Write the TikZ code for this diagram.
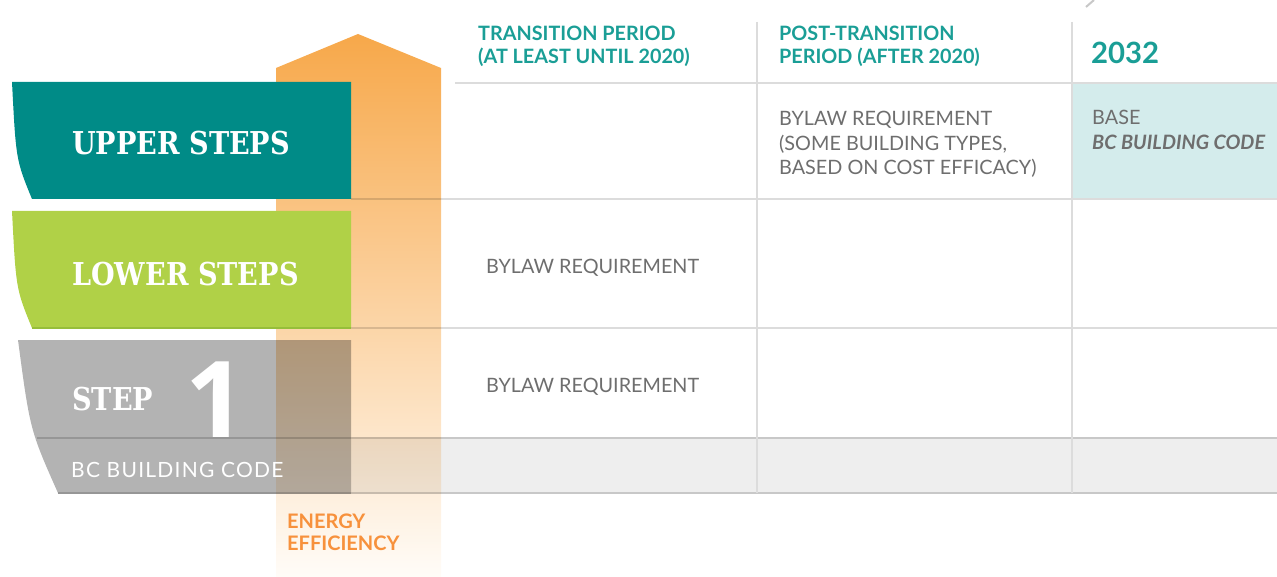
\documentclass[tikz,border=0pt]{standalone}
\usepackage{fontspec}
\setmainfont{Lato}
\newfontfamily\slab[FakeStretch=0.862]{DejaVu Serif}
\newfontfamily\numfont{Open Sans}
\definecolor{stepteal}{RGB}{0,139,135}
\definecolor{stepgreen}{RGB}{176,209,71}
\definecolor{greenedge}{RGB}{150,190,58}
\definecolor{stepgray}{RGB}{179,179,179}
\definecolor{grayedge}{RGB}{150,150,150}
\definecolor{hdrteal}{RGB}{26,158,150}
\definecolor{bodygray}{RGB}{110,110,110}
\definecolor{cellteal}{RGB}{212,236,236}
\definecolor{rowgray}{RGB}{238,238,238}
\definecolor{tline}{RGB}{220,220,220}
\definecolor{tdark}{RGB}{200,200,200}
\definecolor{orangetxt}{RGB}{247,145,60}
\definecolor{arrtop}{RGB}{247,168,74}
\definecolor{arrbot}{RGB}{255,252,248}
\tikzset{
  gridline/.style={draw=tline, line width=1.6pt},
  darkline/.style={draw=tdark, line width=1.6pt},
  steplabel/.style={anchor=base west, inner sep=0pt, text=white, font=\slab\bfseries\fontsize{31.5}{31.5}\selectfont},
  hdr/.style={anchor=base west, inner sep=0pt, align=left, text=hdrteal, font=\bfseries\fontsize{19.8}{23}\selectfont},
  body/.style={anchor=base west, inner sep=0pt, align=left, text=bodygray, font=\fontsize{19.8}{24.5}\selectfont},
}
\begin{document}
\begin{tikzpicture}[x=1pt,y=-1pt]
\useasboundingbox (0,0) rectangle (1277,577);
% table backgrounds
\fill[cellteal] (1072,83) rectangle (1277,199);
\fill[rowgray] (351,438) rectangle (1277,493);
% table lines
\draw[gridline] (455,83) -- (1277,83);
\draw[gridline] (351,199) -- (1277,199);
\draw[gridline] (351,328) -- (1277,328);
\draw[darkline] (351,438) -- (1277,438);
\draw[darkline] (351,493) -- (1277,493);
\draw[gridline] (757,22) -- (757,493);
\draw[gridline] (1072,22) -- (1072,493);
\draw[tdark, line width=2pt] (1086,7) -- (1094,0);
% step 1 box
\fill[stepgray] (18,340) -- (351,340) -- (351,493) -- (58,493) .. controls (30,430) .. (18,340) -- cycle;
\draw[grayedge, line width=1.5pt] (37,438) -- (351,438);
\draw[grayedge, line width=1.5pt] (58,493) -- (351,493);
% arrow
\shade[blend mode=multiply, top color=arrtop, bottom color=arrbot]
  (276,577) -- (276,68) -- (358,34) -- (441,68) -- (441,577) -- cycle;
% upper / lower boxes
\fill[stepteal] (12,82) -- (351,82) -- (351,199) -- (32,199) .. controls (16,160) .. (12,82) -- cycle;
\fill[stepgreen] (12,211) -- (351,211) -- (351,328) -- (32,328) .. controls (16,289) .. (12,211) -- cycle;
\draw[greenedge, line width=1.5pt] (32,328) -- (351,328);
% labels
\node[steplabel] (upper) at (72,155) {UPPER STEPS};
\node[steplabel] (lower) at (72,286) {LOWER STEPS};
\node[steplabel] (step) at (72,410) {STEP};
\node[anchor=base west, inner sep=0pt, text depth=0pt, text=white, font=\numfont\bfseries\fontsize{106}{106}\selectfont] (one) at (185,437) {1};
\node[anchor=base west, inner sep=0pt, text=white, font=\addfontfeature{LetterSpace=6}\fontsize{21}{21}\selectfont] (bccode) at (71,477) {BC BUILDING CODE};
\node[anchor=base west, inner sep=0pt, align=left, text=orangetxt, font=\bfseries\fontsize{20}{22}\selectfont] (energy) at (287,550) {ENERGY\\EFFICIENCY};
% headers
\node[hdr] (h1) at (478,63.5) {TRANSITION PERIOD\\(AT LEAST UNTIL 2020)};
\node[hdr] (h2) at (779,63.5) {POST-TRANSITION\\PERIOD (AFTER 2020)};
\node[anchor=base west, inner sep=0pt, text=hdrteal, font=\bfseries\fontsize{29.3}{29.3}\selectfont] (h3) at (1091,63.3) {2032};
% cells
\node[body] (c1) at (779,175) {BYLAW REQUIREMENT\\(SOME BUILDING TYPES,\\BASED ON COST EFFICACY)};
\node[body] (c2) at (1092,149.5) {BASE\\\textbf{\textit{BC BUILDING CODE}}};
\node[body] (c3) at (486,274) {BYLAW REQUIREMENT};
\node[body] (c4) at (486,392) {BYLAW REQUIREMENT};
\end{tikzpicture}
\end{document}
